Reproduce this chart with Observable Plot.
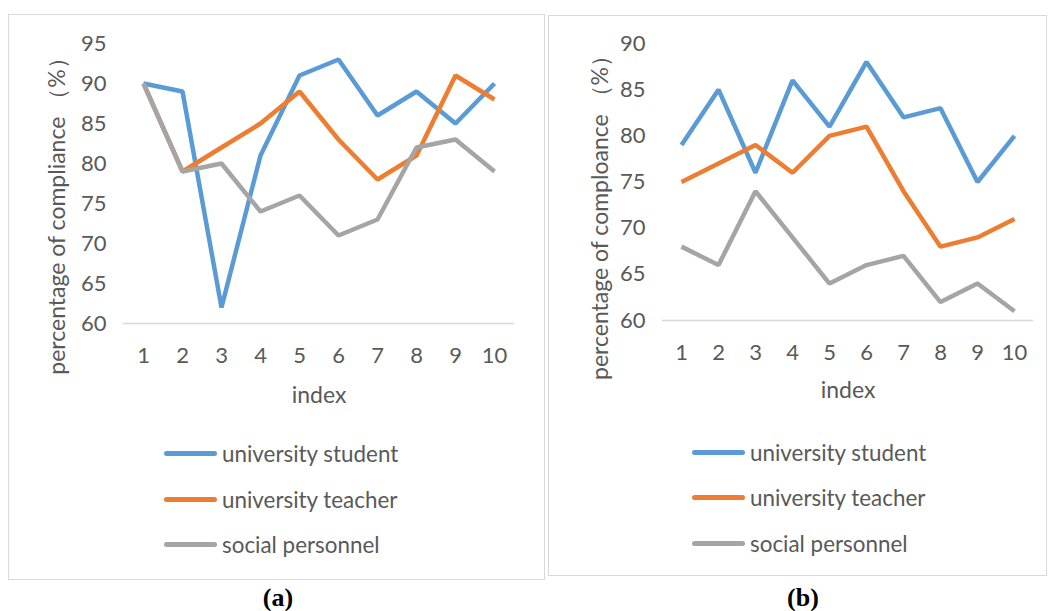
<!DOCTYPE html>
<html>
<head>
<meta charset="utf-8">
<script src="https://cdn.jsdelivr.net/npm/d3@7"></script>
<script src="https://cdn.jsdelivr.net/npm/@observablehq/plot@0.6"></script>
<style>
  html, body { margin: 0; padding: 0; background: #fff; }
  #root { position: relative; width: 1049px; height: 611px; overflow: hidden; font-family: Lato, "Noto Sans", sans-serif; }
  .panel { position: absolute; border: 1.5px solid #d9d9d9; box-sizing: border-box; }
  .plotbox { position: absolute; }
  .legend { position: absolute; font-family: Lato, sans-serif; font-size: 22.4px; color: #595959; }
  .legrow { position: absolute; left: 0; display: flex; align-items: center; white-space: nowrap; }
  .swatch { width: 53px; height: 5px; border-radius: 3px; margin-right: 5px; }
  .tag { position: absolute; font-family: "Liberation Serif", serif; font-weight: bold; font-size: 26px; color: #000; transform: translateX(-50%); }
</style>
</head>
<body>
<div id="root"></div>
<script>
// ---- data ----
const indexLabels = [1, 2, 3, 4, 5, 6, 7, 8, 9, 10];
const seriesNames = ["university student", "university teacher", "social personnel"];
const seriesColors = ["#5B9BD5", "#ED7D31", "#A5A5A5"];

const aStudent = [90, 89, 62, 81, 91, 93, 86, 89, 85, 90];
const aTeacher = [90, 79, 82, 85, 89, 83, 78, 81, 91, 88];
const aSocial  = [90, 79, 80, 74, 76, 71, 73, 82, 83, 79];

const bStudent = [79, 85, 76, 86, 81, 88, 82, 83, 75, 80];
const bTeacher = [75, 77, 79, 76, 80, 81, 74, 68, 69, 71];
const bSocial  = [68, 66, 74, 69, 64, 66, 67, 62, 64, 61];

const aYTicks = [60, 65, 70, 75, 80, 85, 90, 95];
const bYTicks = [60, 65, 70, 75, 80, 85, 90];

const aYLabel = "percentage of compliance （%）";
const bYLabel = "percentage of comploance （%）";
const xLabel = "index";

const root = document.getElementById("root");

function rows(values, name) {
  return indexLabels.map((x, i) => ({index: x, value: values[i], series: name}));
}

function makeChart(cfg) {
  const panel = document.createElement("div");
  panel.className = "panel";
  Object.assign(panel.style, {left: cfg.panel[0] + "px", top: cfg.panel[1] + "px", width: cfg.panel[2] + "px", height: cfg.panel[3] + "px"});
  root.appendChild(panel);

  const series = [cfg.student, cfg.teacher, cfg.social];
  const marks = [
    Plot.ruleY([cfg.yDomain[0]], {stroke: "#d9d9d9", strokeWidth: 1.5}),
    Plot.axisX({tickSize: 0, tickPadding: 24, fontSize: 22, fill: "#595959"}),
    Plot.axisY({ticks: cfg.yTicks, tickSize: 0, tickPadding: 17, fontSize: 22, fill: "#595959", label: null}),
    ...series.map((vals, i) => Plot.line(rows(vals, seriesNames[i]), {
      x: "index", y: "value", stroke: seriesColors[i], strokeWidth: 4.5,
      strokeLinejoin: "miter", strokeLinecap: "butt"
    })),
    Plot.text([cfg.yLabel], {frameAnchor: "left", textAnchor: "middle", lineAnchor: "middle", rotate: -90, dx: cfg.yLabelDx, dy: cfg.yLabelDy, fontSize: 23, fill: "#595959", text: d => d}),
    Plot.text([xLabel], {frameAnchor: "bottom", dy: cfg.xLabelDy, lineAnchor: "middle", fontSize: 23, fill: "#595959", text: d => d})
  ];

  const chart = Plot.plot({
    width: cfg.width,
    height: cfg.height,
    marginLeft: cfg.ml,
    marginRight: cfg.mr,
    marginTop: cfg.mt,
    marginBottom: cfg.mb,
    x: {type: "point", domain: indexLabels, padding: 0.5, label: null},
    y: {domain: cfg.yDomain, label: null},
    style: {fontFamily: "Lato, 'Noto Sans', sans-serif", fontSize: "22px", color: "#595959", background: "transparent", overflow: "visible"},
    marks
  });
  const box = document.createElement("div");
  box.className = "plotbox";
  box.style.left = cfg.svgPos[0] + "px";
  box.style.top = cfg.svgPos[1] + "px";
  box.appendChild(chart);
  root.appendChild(box);

  const legend = document.createElement("div");
  legend.className = "legend";
  legend.style.left = cfg.legend[0] + "px";
  legend.style.top = "0px";
  seriesNames.forEach((name, i) => {
    const row = document.createElement("div");
    row.className = "legrow";
    row.style.top = (cfg.legendRows[i] - 14) + "px";
    row.style.height = "28px";
    const sw = document.createElement("div");
    sw.className = "swatch";
    sw.style.background = seriesColors[i];
    const tx = document.createElement("span");
    tx.textContent = name;
    row.appendChild(sw);
    row.appendChild(tx);
    legend.appendChild(row);
  });
  root.appendChild(legend);

  const tag = document.createElement("div");
  tag.className = "tag";
  tag.style.left = cfg.tag[0] + "px";
  tag.style.top = cfg.tag[1] + "px";
  tag.textContent = cfg.tagText;
  root.appendChild(tag);
}

makeChart({
  panel: [8, 14, 537, 566],
  svgPos: [8, 14],
  width: 537, height: 420, ml: 115, mr: 31, mt: 29, mb: 111,
  yDomain: [60, 95], yTicks: aYTicks,
  student: aStudent, teacher: aTeacher, social: aSocial,
  yLabel: aYLabel, yLabelDx: -66, yLabelDy: 27, xLabelDy: 72,
  legend: [164, 0], legendRows: [453, 499, 544],
  tag: [278, 583], tagText: "(a)"
});

makeChart({
  panel: [548, 15, 499, 561],
  svgPos: [548, 15],
  width: 498, height: 420, ml: 114, mr: 13, mt: 28, mb: 115,
  yDomain: [60, 90], yTicks: bYTicks,
  student: bStudent, teacher: bTeacher, social: bSocial,
  yLabel: bYLabel, yLabelDx: -62, yLabelDy: 30, xLabelDy: 70,
  legend: [692, 0], legendRows: [452, 497, 543],
  tag: [803, 583], tagText: "(b)"
});
</script>
</body>
</html>
